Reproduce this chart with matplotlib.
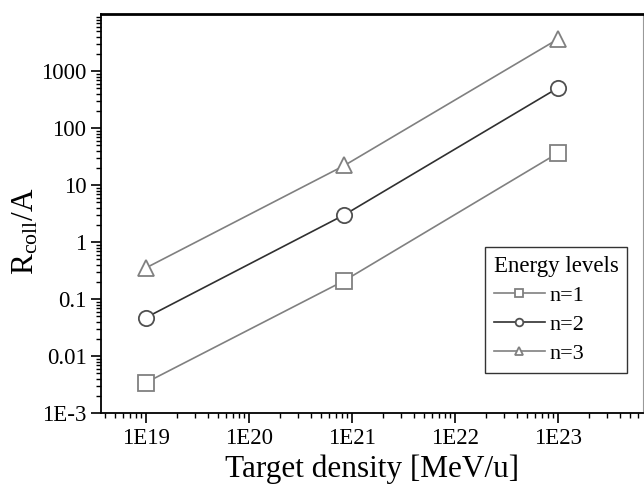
import matplotlib
matplotlib.use("Agg")
import matplotlib.pyplot as plt
from matplotlib.ticker import LogLocator, FixedLocator, NullFormatter

plt.rcParams['font.family'] = ['Liberation Serif', 'DejaVu Serif']
plt.rcParams['mathtext.fontset'] = 'custom'
plt.rcParams['mathtext.rm'] = 'Liberation Serif'
plt.rcParams['mathtext.it'] = 'Liberation Serif:italic'

density = [1e19, 8.5e20, 1e23]
n1 = [0.0034, 0.21, 36]
n2 = [0.047, 3.0, 500]
n3 = [0.35, 22, 3600]
series_labels = ["n=1", "n=2", "n=3"]
xticks = [1e19, 1e20, 1e21, 1e22, 1e23]
xticklabels = ["1E19", "1E20", "1E21", "1E22", "1E23"]
yticks = [1e-3, 1e-2, 1e-1, 1, 10, 100, 1000]
yticklabels = ["1E-3", "0.01", "0.1", "1", "10", "100", "1000"]

fig = plt.figure(figsize=(6.44, 4.93), dpi=100)
ax = fig.add_axes([101/644, 1-413/493, 542/644, 399/493])

styles = [
    dict(marker='s', color='#808080', mec='#808080'),
    dict(marker='o', color='#303030', mec='#505050'),
    dict(marker='^', color='#808080', mec='#808080'),
]
for ys, lab, st in zip([n1, n2, n3], series_labels, styles):
    ax.plot(density, ys, marker=st['marker'], color=st['color'], lw=1.2,
            ms=11, mfc='white', mec=st['mec'], mew=1.3, label=lab)

ax.set_xscale('log')
ax.set_yscale('log')
ax.set_xlim(10**18.565, 10**23.83)
ax.set_ylim(1e-3, 1e4)

ax.xaxis.set_major_locator(FixedLocator(xticks))
ax.set_xticklabels(xticklabels)
ax.yaxis.set_major_locator(FixedLocator(yticks))
ax.set_yticklabels(yticklabels)
ax.xaxis.set_minor_locator(LogLocator(base=10, subs=range(2, 10), numticks=100))
ax.yaxis.set_minor_locator(LogLocator(base=10, subs=range(2, 10), numticks=100))
ax.xaxis.set_minor_formatter(NullFormatter())
ax.yaxis.set_minor_formatter(NullFormatter())

ax.tick_params(which='major', direction='out', length=7, width=1.2, labelsize=16.5,
               top=False, right=False)
ax.tick_params(which='minor', direction='out', length=3.5, width=1.0,
               top=False, right=False)

ax.spines['left'].set_linewidth(1.3)
ax.spines['bottom'].set_linewidth(1.3)
ax.spines['top'].set_linewidth(2.0)
ax.spines['right'].set_linewidth(0.8)
ax.spines['right'].set_color('#999999')

ax.set_xlabel("Target density [MeV/u]", fontsize=22.5, labelpad=4)
ax.set_ylabel(r"R$_{\mathrm{coll}}$/A", fontsize=22.5)
ax.yaxis.set_label_coords(-0.112, 0.455)

leg = ax.legend(title="Energy levels", loc='upper left', bbox_to_anchor=(0.708, 0.416),
                borderaxespad=0, fancybox=False, edgecolor='#333333', fontsize=16,
                title_fontsize=16.5, handlelength=2.3, handletextpad=0.2,
                markerscale=0.5, labelspacing=0.38, borderpad=0.4,
                alignment='left', framealpha=1)
leg.get_frame().set_linewidth(1.0)

fig.savefig("out.png", dpi=100)
